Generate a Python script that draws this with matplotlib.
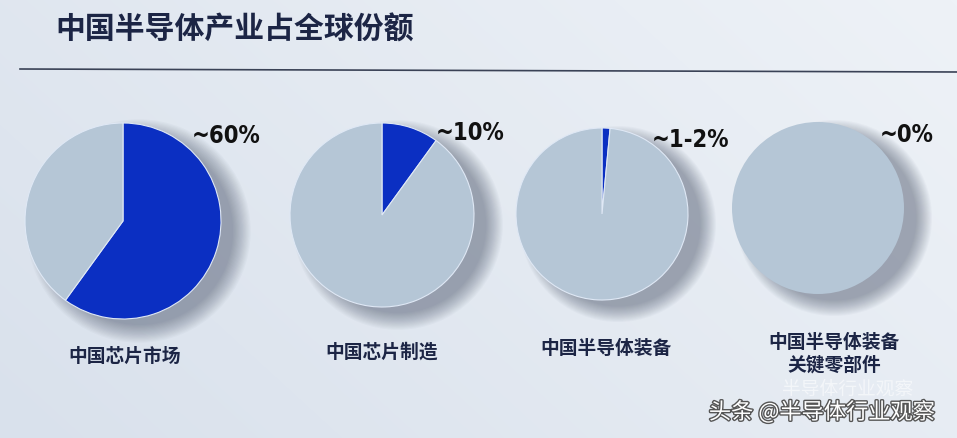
import numpy as np
import matplotlib.pyplot as plt
import matplotlib.patheffects as pe
from matplotlib.colors import LinearSegmentedColormap
from matplotlib.patches import Ellipse

# data
categories = ['中国芯片市场', '中国芯片制造', '中国半导体装备', '中国半导体装备\n关键零部件']
shares = [60, 10, 1.5, 0]
share_labels = ['~60%', '~10%', '~1-2%', '~0%']
title = '中国半导体产业占全球份额'

# layout (pixel coords, y from top)
centers = [(123, 221), (382, 215), (602, 214), (818, 208)]
radii = [98, 92, 86, 86]
label_pos = [(125, 356), (382, 352), (606, 348), (834, 354)]
pct_pos = [(226, 136), (470, 133), (690, 140), (907, 135)]

W, H = 957, 438
blue = '#0b2fc2'
grey = '#b5c6d6'
bg = '#e3e9f1'

plt.rcParams['font.family'] = ['Noto Sans CJK SC', 'DejaVu Sans']

fig = plt.figure(figsize=(W / 100, H / 100), dpi=100)
fig.patch.set_facecolor(bg)
ax = fig.add_axes([0, 0, 1, 1])
ax.set_facecolor(bg)

# soft background gradient
yy, xx = np.mgrid[0:H, 0:W]
grad = 0.5 + 0.5 * (xx / W) - 0.25 * (yy / H)
cmap = LinearSegmentedColormap.from_list('bgc', ['#d9e1ec', '#eef2f7'])
ax.imshow(grad, extent=(0, W, 0, H), cmap=cmap, zorder=0, aspect='auto')

for (cx, cy), r, share in zip(centers, radii, shares):
    y = H - cy
    # blurry shadow lower right
    for k in range(16):
        s = 0.96 + 0.012 * k
        ax.add_patch(Ellipse((cx + 16, y - 10), 2 * r * s, 2 * r * s,
                             color='#25304a', alpha=0.028, lw=0, zorder=1))
    ax.pie([share, 100 - share], colors=[blue, grey], startangle=90, counterclock=False,
           center=(cx, y), radius=r,
           wedgeprops=dict(edgecolor='#dfe8f5', linewidth=0.8 if share > 0 else 0),
           frame=True)

ax.set_xlim(0, W)
ax.set_ylim(0, H)
ax.set_axis_off()

# title and rule
ax.text(55, H - 30, title, fontsize=21.5, fontweight='bold', color='#1c2545',
        va='center', ha='left')
ax.plot([20, W], [H - 69, H - 72], color='#3a4256', lw=1.2)

for (px, py), t in zip(pct_pos, share_labels):
    ax.text(px, H - py, t, fontsize=17, fontweight='bold', color='#111111',
            family='DejaVu Sans', fontstretch='condensed', ha='center', va='center')

for (lx, ly), t in zip(label_pos, categories):
    ax.text(lx, H - ly, t, fontsize=13.5, fontweight='bold', color='#1c2545',
            ha='center', va='center', linespacing=1.25)

# watermark
ax.text(848, H - 389, '半导体行业观察', fontsize=13.5, color='#f6f8fb', alpha=0.85,
        ha='center', va='center')
ax.text(822, H - 412, '头条 @半导体行业观察', fontsize=16, color='white',
        ha='center', va='center',
        path_effects=[pe.withStroke(linewidth=2, foreground='#555555')])

fig.savefig('out.png', dpi=100, facecolor=bg)
